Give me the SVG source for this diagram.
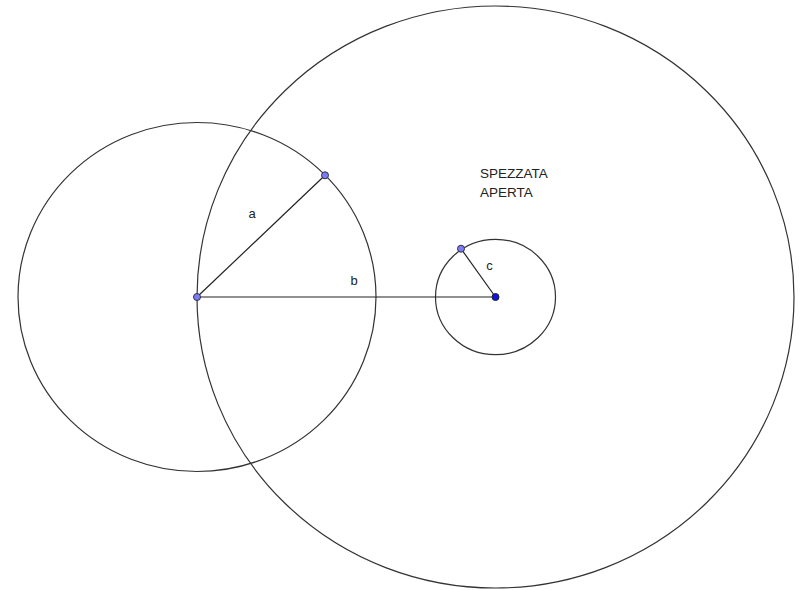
<svg xmlns="http://www.w3.org/2000/svg" width="802" height="590" viewBox="0 0 802 590">
<style>
.c{fill:none;stroke:#333;stroke-width:1.2}
.s{stroke:#222;stroke-width:1.2}
.p{fill:#7b7bff;stroke:#333;stroke-width:1}
.q{fill:#1010ee;stroke:#222;stroke-width:1}
.t{font-family:"Liberation Sans",Arial,sans-serif;font-size:13px;fill:#222}
.h{font-size:13.5px}
</style>
<rect width="802" height="590" fill="#fff"/>
<g id="circle-big"><ellipse class="c" cx="495.5" cy="297" rx="298.5" ry="291"/></g>
<g id="circle-left"><ellipse class="c" cx="197" cy="297" rx="179" ry="174.5"/></g>
<g id="circle-small"><ellipse class="c" cx="495.5" cy="297" rx="60" ry="57.7"/></g>
<g id="connectors">
<line class="s" x1="197" y1="297" x2="325" y2="175.3"/>
<line class="s" x1="197" y1="297" x2="495.5" y2="297"/>
<line class="s" x1="495.5" y1="297" x2="461" y2="248.7"/>
</g>
<g id="labels">
<text class="t" x="252" y="218" text-anchor="middle">a</text>
<text class="t" x="354" y="285" text-anchor="middle">b</text>
<text class="t" x="489.5" y="270" text-anchor="middle">c</text>
<text class="t h" x="480" y="177.5">SPEZZATA</text>
<text class="t h" x="480" y="196.5">APERTA</text>
</g>
<g id="point-A"><circle class="p" cx="197" cy="297" r="3.5"/></g>
<g id="point-a"><circle class="p" cx="325" cy="175.3" r="3.5"/></g>
<g id="point-c"><circle class="p" cx="461" cy="248.7" r="3.5"/></g>
<g id="point-O"><circle class="q" cx="495.5" cy="297" r="3.5"/></g>
</svg>
